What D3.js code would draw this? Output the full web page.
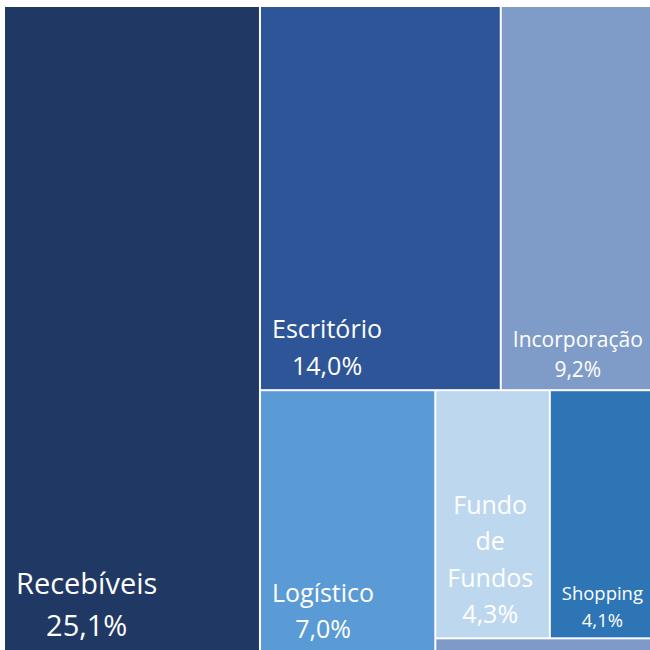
<!DOCTYPE html>
<html>
<head>
<meta charset="utf-8">
<script src="https://cdn.jsdelivr.net/npm/d3@7"></script>
<style>
body { margin: 0; background: #fff; }
svg { display: block; }
text { font-family: "Segoe UI", "Open Sans", sans-serif; fill: #fff; }
</style>
</head>
<body>
<div id="treemap"></div>
<script>
const categories = ["Recebíveis", "Escritório", "Incorporação", "Logístico", "Fundo de Fundos", "Shopping", "Outros"]
const values = [25.1, 14.0, 9.2, 7.0, 4.3, 4.1, 0.53]
const colors = ["#203864", "#2e5597", "#7f9cc8", "#5b9bd5", "#bdd7ee", "#2e75b6", "#7f9ac8"]
// number of tiles in each strip, the rest goes in the last one
const stripSizes = [1, 2, 1, 2]

const width = 650
const height = 650
const margins = { top: 7, left: 5 }

const data = categories.map((c, i) => ({ name: c, value: values[i], color: colors[i] }))
console.log('data', data)

// strips alternate with the shape of what is left: a column if wide, a row if tall
function stripTile(parent, x0, y0, x1, y1) {
    const nodes = parent.children
    let remaining = parent.value
    let i = 0, s = 0
    while (i < nodes.length) {
        const n = s < stripSizes.length ? stripSizes[s] : nodes.length - i
        const row = nodes.slice(i, i + n)
        const v = d3.sum(row, d => d.value)
        const strip = { children: row, value: v }
        if (x1 - x0 >= y1 - y0) {
            const x = x0 + (x1 - x0) * v / remaining
            d3.treemapSlice(strip, x0, y0, x, y1)
            x0 = x
        } else {
            const y = y0 + (y1 - y0) * v / remaining
            d3.treemapDice(strip, x0, y0, x1, y)
            y0 = y
        }
        remaining -= v
        i += n
        s++
    }
}

const root = d3.hierarchy({ children: data }).sum(d => d.value)
d3.treemap()
    .tile(stripTile)
    .size([653, 646])
    .paddingInner(2)(root)

const svg = d3.select("#treemap")
    .append("svg")
    .attr("width", width)
    .attr("height", height)

const g = svg.append("g")
    .attr("transform", `translate(${margins.left},${margins.top})`)

const tiles = g.selectAll("g.tile")
    .data(root.leaves())
    .join("g")
    .attr("class", "tile")
    .attr("transform", d => `translate(${d.x0},${d.y0})`)

tiles.append("rect")
    .attr("width", d => d.x1 - d.x0)
    .attr("height", d => d.y1 - d.y0)
    .attr("fill", d => d.data.color)

const pt = d3.formatLocale({ decimal: ",", thousands: ".", grouping: [3], currency: ["R$", ""] })
const fmt = pt.format(".1f")

const measure = svg.append("text").attr("visibility", "hidden")
function textWidth(str, size) {
    measure.style("font-size", size + "px").text(str)
    return measure.node().getComputedTextLength()
}

const fontScale = d3.scaleLinear().domain([90000, 160000]).range([25, 29]).clamp(true)

tiles.each(function(d) {
    const w = d.x1 - d.x0
    const h = d.y1 - d.y0
    const avail = w - 26
    let size = fontScale(w * h)
    const lines = []
    d.data.name.split(" ").forEach(word => {
        const last = lines[lines.length - 1]
        if (last && textWidth(last + " " + word, size) <= avail) lines[lines.length - 1] = last + " " + word
        else lines.push(word)
    })
    lines.push(fmt(d.value) + "%")
    const widest = d3.max(lines, l => textWidth(l, size))
    if (widest > avail) size = size * avail / widest
    const lineH = size * 1.45
    const blockH = lineH * (lines.length - 1) + size * 1.3
    if (blockH > h) return
    const cx = 11 + d3.max(lines, l => textWidth(l, size)) / 2
    const baseY = h - size * 0.58

    d3.select(this).selectAll("text.label")
        .data(lines)
        .join("text")
        .attr("class", "label")
        .attr("x", cx)
        .attr("y", (l, j) => baseY - (lines.length - 1 - j) * lineH)
        .attr("text-anchor", "middle")
        .style("font-size", size + "px")
        .text(l => l)
})

measure.remove()
</script>
</body>
</html>
